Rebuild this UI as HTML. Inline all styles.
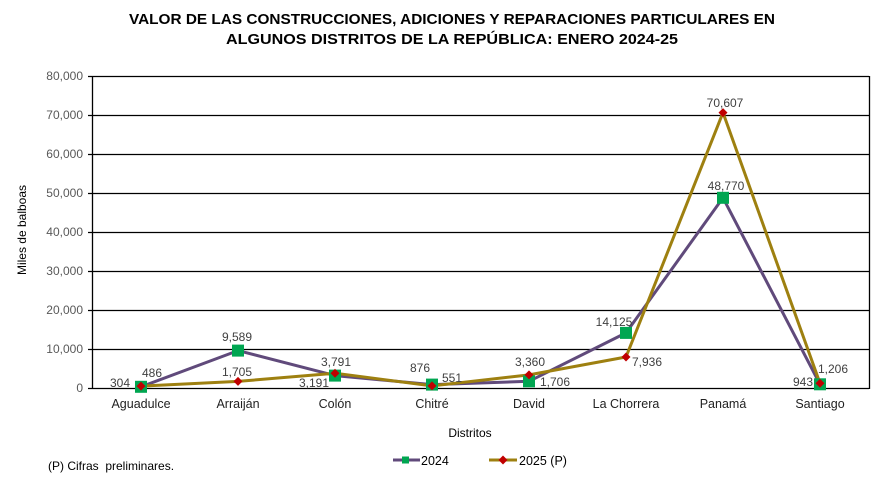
<!DOCTYPE html>
<html><head><meta charset="utf-8"><style>
html,body{margin:0;padding:0;background:#fff;}
svg{display:block;font-family:"Liberation Sans",Arial,sans-serif;}
</style></head><body>
<svg width="881" height="481" viewBox="0 0 881 481" xmlns="http://www.w3.org/2000/svg">
<rect width="881" height="481" fill="#fff"/>
<g font-weight="bold" font-size="14.5" fill="#000" text-anchor="middle">
<text x="452" y="24" textLength="646" lengthAdjust="spacingAndGlyphs">VALOR DE LAS CONSTRUCCIONES, ADICIONES Y REPARACIONES PARTICULARES EN</text>
<text x="452" y="44" textLength="452" lengthAdjust="spacingAndGlyphs">ALGUNOS DISTRITOS DE LA REPÚBLICA: ENERO 2024-25</text>
</g>
<g stroke="#000" stroke-width="1.3">
<line x1="88" y1="76.5" x2="869" y2="76.5"/>
<line x1="88" y1="115.5" x2="869" y2="115.5"/>
<line x1="88" y1="154.5" x2="869" y2="154.5"/>
<line x1="88" y1="193.5" x2="869" y2="193.5"/>
<line x1="88" y1="232.5" x2="869" y2="232.5"/>
<line x1="88" y1="271.5" x2="869" y2="271.5"/>
<line x1="88" y1="310.5" x2="869" y2="310.5"/>
<line x1="88" y1="349.5" x2="869" y2="349.5"/>
<line x1="88" y1="388.5" x2="869" y2="388.5"/>
<line x1="92.5" y1="76" x2="92.5" y2="389"/>
<line x1="869.5" y1="76" x2="869.5" y2="389"/>
</g>
<g font-size="12" fill="#595959" text-anchor="end">
<text x="83" y="80">80,000</text>
<text x="83" y="119">70,000</text>
<text x="83" y="158">60,000</text>
<text x="83" y="197">50,000</text>
<text x="83" y="236">40,000</text>
<text x="83" y="275">30,000</text>
<text x="83" y="314">20,000</text>
<text x="83" y="353">10,000</text>
<text x="83" y="392">0</text>
</g>
<text transform="translate(26,230) rotate(-90)" font-size="12" fill="#000" text-anchor="middle">Miles de balboas</text>
<g font-size="12.5" fill="#222" text-anchor="middle">
<text x="141" y="408">Aguadulce</text>
<text x="238" y="408">Arraiján</text>
<text x="335" y="408">Colón</text>
<text x="432" y="408">Chitré</text>
<text x="529" y="408">David</text>
<text x="626" y="408">La Chorrera</text>
<text x="723" y="408">Panamá</text>
<text x="820" y="408">Santiago</text>
</g>
<text x="470" y="437" font-size="12" fill="#000" text-anchor="middle">Distritos</text>
<!-- series 2024 -->
<polyline fill="none" stroke="#604A7B" stroke-width="3" stroke-linejoin="round" points="141,386.8 238,350.6 335,375.6 432,384.6 529,381.3 626,332.9 723,197.8 820,384.3"/>
<!-- series 2025 -->
<polyline fill="none" stroke="#9E8010" stroke-width="3" stroke-linejoin="round" points="141,386.1 238,381.4 335,373.2 432,385.9 529,374.9 626,357 723,112.6 820,383.3"/>
<g fill="#00A651">
<rect x="135" y="380.8" width="12" height="12"/>
<rect x="232" y="344.6" width="12" height="12"/>
<rect x="329" y="369.6" width="12" height="12"/>
<rect x="426" y="378.6" width="12" height="12"/>
<rect x="523" y="375.3" width="12" height="12"/>
<rect x="620" y="326.9" width="12" height="12"/>
<rect x="717" y="191.8" width="12" height="12"/>
<rect x="814" y="378.3" width="12" height="12"/>
</g>
<g fill="#C00000">
<path d="M141,381.6 L145.5,386.1 L141,390.6 L136.5,386.1Z"/>
<path d="M238,376.9 L242.5,381.4 L238,385.9 L233.5,381.4Z"/>
<path d="M335,368.7 L339.5,373.2 L335,377.7 L330.5,373.2Z"/>
<path d="M432,381.4 L436.5,385.9 L432,390.4 L427.5,385.9Z"/>
<path d="M529,370.4 L533.5,374.9 L529,379.4 L524.5,374.9Z"/>
<path d="M626,352.5 L630.5,357 L626,361.5 L621.5,357Z"/>
<path d="M723,108.1 L727.5,112.6 L723,117.1 L718.5,112.6Z"/>
<path d="M820,378.8 L824.5,383.3 L820,387.8 L815.5,383.3Z"/>
</g>
<g font-size="12" fill="#404040" text-anchor="middle">
<text x="120" y="387">304</text>
<text x="152" y="377">486</text>
<text x="237" y="341">9,589</text>
<text x="237" y="376">1,705</text>
<text x="336" y="366">3,791</text>
<text x="314" y="387">3,191</text>
<text x="420" y="372">876</text>
<text x="452" y="382">551</text>
<text x="530" y="366">3,360</text>
<text x="555" y="386">1,706</text>
<text x="614" y="326">14,125</text>
<text x="647" y="366">7,936</text>
<text x="725" y="107">70,607</text>
<text x="726" y="190">48,770</text>
<text x="803" y="386">943</text>
<text x="833" y="373">1,206</text>
</g>
<!-- legend -->
<line x1="393" y1="460" x2="420" y2="460" stroke="#604A7B" stroke-width="3"/>
<rect x="402" y="456.5" width="7" height="7" fill="#00A651"/>
<text x="421" y="465" font-size="12.5" fill="#000">2024</text>
<line x1="489" y1="460" x2="517" y2="460" stroke="#9E8010" stroke-width="3"/>
<path d="M503,455.5 L507.5,460 L503,464.5 L498.5,460Z" fill="#C00000"/>
<text x="519" y="465" font-size="12.5" fill="#000">2025 (P)</text>
<text x="48" y="470" font-size="12" fill="#000" xml:space="preserve">(P) Cifras  preliminares.</text>
</svg>
</body></html>
